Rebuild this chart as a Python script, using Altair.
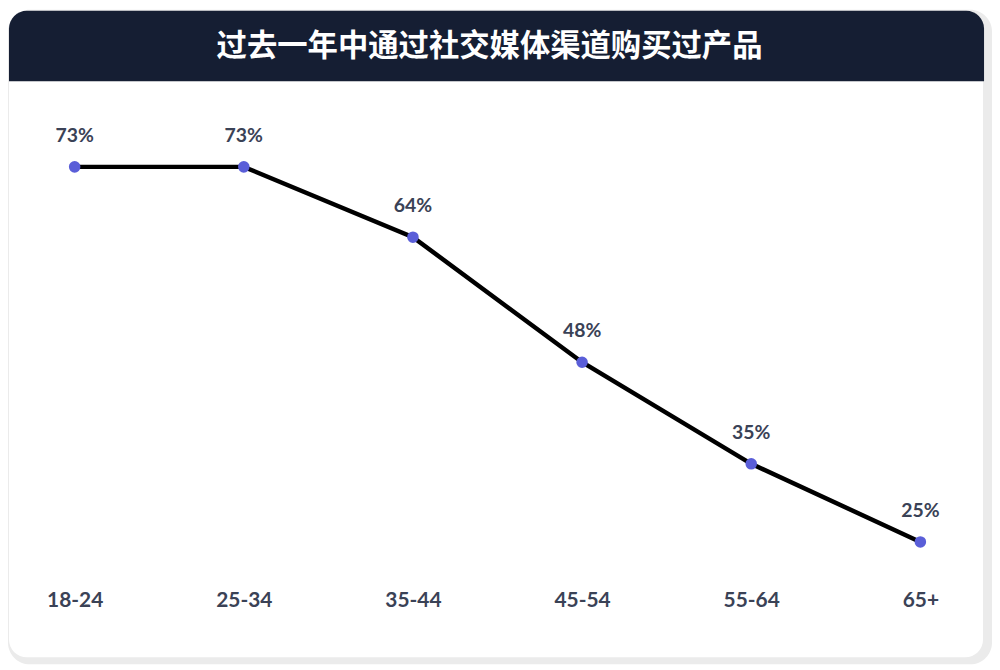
import altair as alt
import pandas as pd

title_text = "过去一年中通过社交媒体渠道购买过产品"
age_groups = ["18-24", "25-34", "35-44", "45-54", "55-64", "65+"]
shares = [73, 73, 64, 48, 35, 25]
share_labels = ["73%", "73%", "64%", "48%", "35%", "25%"]

df = pd.DataFrame({"age": age_groups, "share": shares, "label": share_labels})
one = pd.DataFrame({"k": [0]})

W, H = 989, 658
GRAY = "#ebebeb"
NAVY = "#151e33"
TEXT = "#3a4256"
DOT = "#5a5ed8"

outer = alt.Chart(one).mark_rect(color=GRAY, cornerRadius=22).encode(
    x=alt.value(0), x2=alt.value(W), y=alt.value(0), y2=alt.value(H))
inner = alt.Chart(one).mark_rect(color="white", cornerRadius=18).encode(
    x=alt.value(1), x2=alt.value(980), y=alt.value(1), y2=alt.value(651))
header = alt.Chart(one).mark_rect(
    color=NAVY, cornerRadiusTopLeft=18, cornerRadiusTopRight=18).encode(
    x=alt.value(1), x2=alt.value(981), y=alt.value(1), y2=alt.value(72))
title = alt.Chart(pd.DataFrame({"t": [title_text]})).mark_text(
    font="Noto Sans CJK SC", fontSize=30.5, fontWeight="bold", color="white",
    align="center", baseline="middle").encode(
    x=alt.value(484), y=alt.value(37.5), text="t:N")

xs = alt.X("age:N", sort=age_groups,
           scale=alt.Scale(type="point", domain=age_groups, range=[67, 917],
                           padding=0),
           axis=alt.Axis(title=None, domain=False, ticks=False, grid=False,
                         labelAngle=0, labelFont="Lato", labelFontSize=21,
                         labelFontWeight="bold", labelColor=TEXT,
                         labelPadding=0, offset=-75, zindex=1))
ys = alt.Y("share:Q", scale=alt.Scale(domain=[25, 73], range=[535, 158]),
           axis=None)

base = alt.Chart(df).encode(x=xs, y=ys)
line = base.mark_line(color="black", strokeWidth=4.5)
pts = base.mark_circle(color=DOT, size=135, opacity=1)
labels = base.mark_text(font="Lato", fontSize=19.5, fontWeight="bold",
                        color=TEXT, dy=-31, baseline="middle").encode(text="label:N")

chart = alt.layer(outer, inner, header, title, line, pts, labels).properties(
    width=W, height=H, autosize=alt.AutoSizeParams(type="none"),
    padding=0, background="white"
).configure_view(stroke=None)

chart.save("out.html", embed_options={"renderer": "svg", "actions": False})
